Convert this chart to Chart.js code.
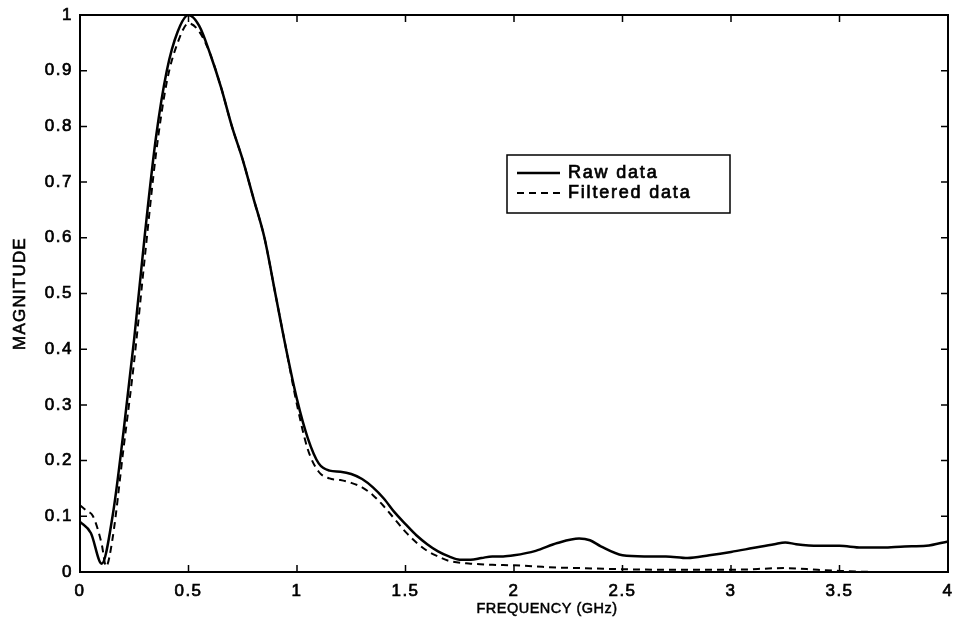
<!DOCTYPE html>
<html>
<head>
<meta charset="utf-8">
<script src="https://cdn.jsdelivr.net/npm/chart.js@4.4.1/dist/chart.umd.min.js"></script>
<style>
html,body{margin:0;padding:0;background:#fff;}
#wrap{width:957px;height:629px;position:relative;}
</style>
</head>
<body>
<div id="wrap"><canvas id="c" width="957" height="629"></canvas></div>
<script>
// Data
const rawFreq = [0,0.05,0.1,0.15,0.2,0.25,0.3,0.35,0.4,0.45,0.5,0.55,0.6,0.65,0.7,0.75,0.8,0.85,0.9,0.95,1.0,1.05,1.1,1.15,1.2,1.25,1.3,1.35,1.4,1.45,1.5,1.55,1.6,1.65,1.7,1.75,1.8,1.85,1.9,1.95,2.0,2.1,2.2,2.3,2.35,2.4,2.5,2.6,2.7,2.8,2.9,3.0,3.1,3.2,3.25,3.3,3.4,3.5,3.6,3.7,3.8,3.9,4.0];
const rawMag  = [0.09,0.07,0.015,0.1,0.25,0.42,0.61,0.78,0.9,0.97,1.0,0.98,0.93,0.87,0.8,0.74,0.67,0.6,0.5,0.4,0.31,0.24,0.195,0.182,0.18,0.176,0.167,0.152,0.132,0.107,0.086,0.066,0.05,0.037,0.028,0.022,0.022,0.025,0.028,0.028,0.03,0.038,0.052,0.06,0.057,0.046,0.03,0.028,0.028,0.025,0.03,0.036,0.043,0.05,0.053,0.05,0.047,0.047,0.044,0.044,0.046,0.047,0.055];
const filtFreq = [0,0.03,0.06,0.1,0.12,0.15,0.2,0.25,0.3,0.35,0.4,0.45,0.5,0.55,0.6,0.65,0.7,0.75,0.8,0.85,0.9,0.95,1.0,1.05,1.1,1.15,1.2,1.25,1.3,1.35,1.4,1.45,1.5,1.55,1.6,1.65,1.7,1.8,1.9,2.0,2.1,2.2,2.3,2.5,2.7,3.0,3.25,3.4,3.5,3.7,4.0];
const filtMag  = [0.12,0.11,0.1,0.05,0.01,0.06,0.22,0.38,0.57,0.75,0.88,0.95,0.985,0.97,0.93,0.87,0.8,0.74,0.67,0.6,0.5,0.4,0.3,0.22,0.18,0.168,0.165,0.16,0.152,0.138,0.118,0.095,0.072,0.053,0.038,0.028,0.02,0.015,0.013,0.012,0.01,0.008,0.007,0.005,0.004,0.004,0.007,0.004,0.002,0.0,0.0];
const xTicks = [0,0.5,1,1.5,2,2.5,3,3.5,4];
const yTicks = [0,0.1,0.2,0.3,0.4,0.5,0.6,0.7,0.8,0.9,1];
const seriesLabels = ['Raw data','Filtered data'];
const xTitle = 'FREQUENCY (GHz)';
const yTitle = 'MAGNITUDE';

const toPts = (xs, ys) => xs.map((x, i) => ({x: x, y: ys[i]}));
const FONT = '"Liberation Sans", Arial, sans-serif';
const SP = '1.5px';

const spacingPlugin = {
  id: 'spacing',
  beforeLayout(chart) { chart.ctx.letterSpacing = SP; },
  beforeDraw(chart) { chart.ctx.letterSpacing = SP; }
};

function strokeFill(ctx, text, x, y, w) {
  ctx.lineWidth = w;
  ctx.strokeStyle = '#000';
  ctx.strokeText(text, x, y);
  ctx.fillText(text, x, y);
}

const framePlugin = {
  id: 'frame',
  afterDraw(chart) {
    const ctx = chart.ctx;
    const a = chart.chartArea;
    const xs = chart.scales.x, ys = chart.scales.y;
    ctx.save();
    ctx.strokeStyle = '#000';
    ctx.lineWidth = 2;
    ctx.strokeRect(a.left, a.top, a.right - a.left, a.bottom - a.top);
    const tl = 7;
    ctx.beginPath();
    xTicks.forEach(v => {
      const px = xs.getPixelForValue(v);
      ctx.moveTo(px, a.bottom); ctx.lineTo(px, a.bottom - tl);
      ctx.moveTo(px, a.top); ctx.lineTo(px, a.top + tl);
    });
    yTicks.forEach(v => {
      const py = ys.getPixelForValue(v);
      ctx.moveTo(a.left, py); ctx.lineTo(a.left + tl, py);
      ctx.moveTo(a.right, py); ctx.lineTo(a.right - tl, py);
    });
    ctx.lineWidth = 1.5;
    ctx.stroke();

    // axis titles
    ctx.fillStyle = '#000';
    ctx.letterSpacing = '0.5px';
    ctx.font = '14.5px ' + FONT;
    ctx.textAlign = 'center';
    ctx.textBaseline = 'middle';
    strokeFill(ctx, xTitle, 547, 609, 0.5);
    ctx.save();
    ctx.translate(20, (a.top + a.bottom) / 2);
    ctx.rotate(-Math.PI / 2);
    ctx.font = '17px ' + FONT;
    ctx.letterSpacing = '1.2px';
    strokeFill(ctx, yTitle, 0, 0, 0.6);
    ctx.restore();

    // legend box
    const bx = 507, by = 155, bw = 223, bh = 58;
    ctx.fillStyle = '#fff';
    ctx.fillRect(bx, by, bw, bh);
    ctx.lineWidth = 1.5;
    ctx.strokeStyle = '#000';
    ctx.strokeRect(bx, by, bw, bh);
    chart.data.datasets.forEach((ds, i) => {
      const y = 173 + i * 20;
      ctx.beginPath();
      ctx.setLineDash(ds.borderDash || []);
      ctx.lineWidth = ds.borderWidth;
      ctx.strokeStyle = ds.borderColor;
      ctx.moveTo(517, y); ctx.lineTo(560, y);
      ctx.stroke();
      ctx.setLineDash([]);
      ctx.fillStyle = '#000';
      ctx.font = '18px ' + FONT;
      ctx.letterSpacing = '1.8px';
      ctx.textAlign = 'left';
      strokeFill(ctx, ds.label, 568, y, 0.7);
    });
    ctx.restore();
  }
};

new Chart(document.getElementById('c'), {
  type: 'line',
  data: {
    datasets: [
      { label: seriesLabels[0], data: toPts(rawFreq, rawMag), borderColor: '#000', borderWidth: 2.5,
        pointRadius: 0, fill: false, cubicInterpolationMode: 'monotone' },
      { label: seriesLabels[1], data: toPts(filtFreq, filtMag), borderColor: '#000', borderWidth: 2,
        borderDash: [7, 5], pointRadius: 0, fill: false, cubicInterpolationMode: 'monotone' }
    ]
  },
  options: {
    responsive: false,
    animation: false,
    layout: { padding: { top: 15, right: 9, left: 0, bottom: 0 } },
    plugins: { legend: { display: false }, tooltip: { enabled: false } },
    scales: {
      x: {
        type: 'linear', min: 0, max: 4,
        afterBuildTicks: s => { s.ticks = xTicks.map(v => ({value: v})); },
        afterFit: s => { s.height = 57; s.paddingLeft = 0; s.paddingRight = 0; },
        grid: { display: false, drawTicks: false },
        border: { display: false },
        ticks: { color: '#000', font: { family: FONT, size: 17 }, padding: 9, maxRotation: 0,
                 textStrokeColor: '#000', textStrokeWidth: 0.7,
                 callback: v => String(v) }
      },
      y: {
        type: 'linear', min: 0, max: 1,
        afterBuildTicks: s => { s.ticks = yTicks.map(v => ({value: v})); },
        afterFit: s => { s.width = 80; s.paddingTop = 0; s.paddingBottom = 0; },
        grid: { display: false, drawTicks: false },
        border: { display: false },
        ticks: { color: '#000', font: { family: FONT, size: 17 }, padding: 7,
                 textStrokeColor: '#000', textStrokeWidth: 0.7,
                 callback: v => String(v) }
      }
    }
  },
  plugins: [spacingPlugin, framePlugin]
});
</script>
</body>
</html>
